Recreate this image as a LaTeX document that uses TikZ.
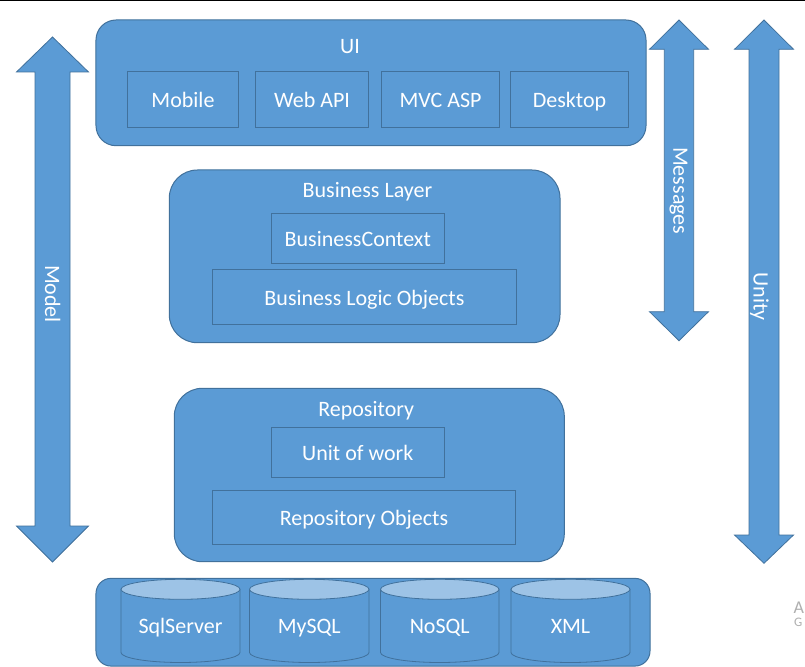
\documentclass[tikz,border=0pt]{standalone}
\usepackage{fontspec}
\setmainfont{Carlito}
\definecolor{fillblue}{HTML}{5B9BD5}
\definecolor{edgeblue}{HTML}{41719C}
\definecolor{topblue}{HTML}{9DC3E6}
\definecolor{wmgray}{HTML}{AFAFAF}
\newcommand\DbCyl[4]{%
  \pgfmathsetmacro\cylc{(#2+#3)/2}%
  \pgfmathsetmacro\cylr{(#3-#2)/2}%
  \filldraw[cylbody] (#2,589.3) -- (#2,652.5) arc[start angle=180,end angle=0,x radius=\cylr,y radius=10] -- (#3,589.3) -- cycle;
  \filldraw[cyltop] (\cylc,589.3) ellipse[x radius=\cylr,y radius=10];
  \node[txt, anchor=base] (#1) at (\cylc,633.3) {#4};
}
\begin{document}
\begin{tikzpicture}[x=1bp,y=-1bp,
  txt/.style={text=white, inner sep=0pt, font=\fontsize{22bp}{26bp}\selectfont},
  panel/.style={draw=edgeblue, fill=fillblue, line width=1bp, inner sep=0pt},
  item/.style={draw=edgeblue, line width=1bp, inner sep=0pt, txt, text height=16.4bp, text depth=0pt},
  bigarrow/.style={draw=edgeblue, fill=fillblue, line width=0.8bp},
  cylbody/.style={draw=edgeblue, fill=fillblue, line width=0.8bp},
  cyltop/.style={draw=edgeblue, fill=topblue, line width=0.8bp},
  vlabel/.style={txt, rotate=-90, anchor=base},
  wm/.style={text=wmgray, inner sep=0pt, anchor=base west}]
\useasboundingbox (0,0) rectangle (805,667);
\fill[white] (0,0) rectangle (805,667);
\draw[black, line width=1bp] (0,0.5) -- (805,0.5);

% arrows
\draw[bigarrow] (52.5,37) -- (88.5,72) -- (70,72) -- (70,526) -- (88.5,526) -- (52.5,562)
  -- (16.5,526) -- (35,526) -- (35,72) -- (16.5,72) -- cycle;
\node[vlabel] (model) at (45,294) {Model};

\draw[bigarrow] (679,20) -- (708.5,49.3) -- (693.7,49.3) -- (693.7,311.7) -- (708.5,311.7) -- (679,340.7)
  -- (649.5,311.7) -- (664.3,311.7) -- (664.3,49.3) -- (649.5,49.3) -- cycle;
\node[vlabel] (messages) at (673.3,190.7) {Messages};

\draw[bigarrow] (764,20) -- (793.5,49.3) -- (779,49.3) -- (779,535) -- (793.5,535) -- (764,563.3)
  -- (734.5,535) -- (749,535) -- (749,49.3) -- (734.5,49.3) -- cycle;
\node[vlabel] (unity) at (753.5,296.7) {Unity};

% UI layer
\node[panel, rounded corners=20bp, minimum width=550bp, minimum height=125.7bp] (ui) at (371,82.85) {};
\node[txt, anchor=base] (uit) at (350,53.3) {UI};
\node[item, minimum width=111.4bp, minimum height=55.3bp] (mobile) at (183,99.65) {Mobile};
\node[item, minimum width=113.4bp, minimum height=55.3bp] (webapi) at (312,99.65) {Web API};
\node[item, minimum width=117.6bp, minimum height=55.3bp] (mvc) at (440.5,99.65) {MVC ASP};
\node[item, minimum width=118.4bp, minimum height=55.3bp] (desktop) at (569.5,99.65) {Desktop};

% Business layer
\node[panel, rounded corners=28bp, minimum width=390.7bp, minimum height=172.7bp] (bl) at (364.65,256.35) {};
\node[txt, anchor=base] (blt) at (367.5,197.7) {Business Layer};
\node[item, minimum width=173bp, minimum height=50bp] (bctx) at (357.8,238.3) {BusinessContext};
\node[item, minimum width=304.4bp, minimum height=55bp] (blo) at (364.5,296.8) {Business Logic Objects};

% Repository
\node[panel, rounded corners=28bp, minimum width=390bp, minimum height=173.4bp] (repo) at (369.3,475) {};
\node[txt, anchor=base] (repot) at (366.2,416.7) {Repository};
\node[item, minimum width=173bp, minimum height=50bp] (uow) at (357.8,452.3) {Unit of work};
\node[item, minimum width=303.4bp, minimum height=53.6bp] (ro) at (364,517.5) {Repository Objects};

% Databases
\node[panel, rounded corners=15bp, minimum width=554bp, minimum height=87.7bp] (db) at (373,622.2) {};
\DbCyl{sql}{121}{240}{SqlServer}
\DbCyl{mysql}{249.5}{369}{MySQL}
\DbCyl{nosql}{380.5}{499}{NoSQL}
\DbCyl{xml}{511}{630}{XML}

% watermark fragments
\node[wm, font=\fontsize{18bp}{20bp}\selectfont] (wa) at (793.3,613.3) {A};
\node[wm, font=\fontsize{13bp}{15bp}\selectfont] (wg) at (794,626.7) {G};
\end{tikzpicture}
\end{document}
